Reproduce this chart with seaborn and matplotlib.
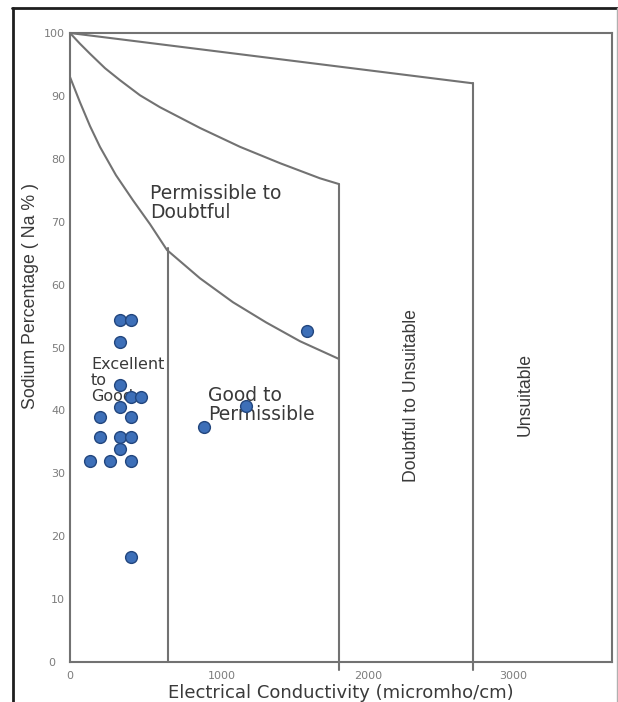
import matplotlib
matplotlib.use("Agg")
import matplotlib.pyplot as plt
import matplotlib.transforms as mtransforms
from matplotlib.lines import Line2D
import seaborn as sns
import pandas as pd

# Sample points: electrical conductivity (micromho/cm) and sodium percentage
ec_values = [372, 454, 372, 372, 454, 529, 372, 223, 454, 223, 372, 454,
             372, 149, 298, 454, 998, 1308, 1767, 454]
na_values = [54.3, 54.3, 50.8, 44.0, 42.2, 42.2, 40.6, 39.0, 39.0, 35.7, 35.7, 35.7,
             33.9, 32.0, 32.0, 32.0, 37.3, 40.7, 52.6, 16.7]

# Wilcox class boundaries
upper_ec = [0, 3000]
upper_na = [100, 92.0]
middle_ec = [0, 74, 149, 261, 372, 521, 670, 968, 1266, 1564, 1861, 2000]
middle_na = [100, 98.3, 96.7, 94.4, 92.5, 90.1, 88.2, 84.9, 81.9, 79.3, 76.9, 76.0]
lower_ec = [0, 74, 149, 223, 342, 469, 596, 722, 968, 1213, 1459, 1712, 2000]
lower_na = [93.0, 89.0, 85.2, 81.9, 77.4, 73.4, 69.6, 65.5, 61.0, 57.2, 54.0, 51.0, 48.2]
divider_ec = [730, 2000, 3000]
divider_top = [65.8, 76.0, 92.0]

y_ticks = [0, 10, 20, 30, 40, 50, 60, 70, 80, 90, 100]
x_ticks = [0, 1000, 2000, 3000]

sns.set_style("white")
plt.rcParams["font.family"] = ["DejaVu Sans"]

line_col = "#727272"
tick_col = "#7c7c7c"
text_col = "#3a3a3a"

fig = plt.figure(figsize=(6.18, 7.02), dpi=100)
ax = fig.add_axes([70 / 618, 1 - 662 / 702, (612 - 70) / 618, (662 - 33) / 702])

points = pd.DataFrame({"EC": ec_values, "Na": na_values})

for xs, ys in [(upper_ec, upper_na), (middle_ec, middle_na), (lower_ec, lower_na)]:
    sns.lineplot(x=xs, y=ys, sort=False, estimator=None, color=line_col, lw=1.5, ax=ax)
for xv, top in zip(divider_ec, divider_top):
    bottom = 0 if xv < 1000 else -1.2
    sns.lineplot(x=[xv, xv], y=[bottom, top], sort=False, estimator=None,
                 color=line_col, lw=1.5, ax=ax, clip_on=False)

sns.scatterplot(data=points, x="EC", y="Na", s=72, color="#3d6fb8",
                edgecolor="#22467e", linewidth=1.0, zorder=5, ax=ax)

ax.set_xlim(0, 4035)
ax.set_ylim(0, 100)

for sp in ax.spines.values():
    sp.set_visible(True)
    sp.set_color(line_col)
    sp.set_linewidth(1.5)

ax.set_yticks(y_ticks)
ax.set_yticklabels([str(v) for v in y_ticks])
ax.tick_params(axis="y", direction="out", length=3, width=1, color=tick_col,
               pad=0.5, labelsize=8, labelcolor=tick_col)
ax.set_xticks(x_ticks)
ax.set_xticklabels([str(v) for v in x_ticks])
ax.tick_params(axis="x", direction="inout", length=9, width=1.2, color="#555555",
               pad=2, labelsize=8, labelcolor=tick_col)
for i, lbl in enumerate(ax.get_xticklabels()):
    if i == 0:
        continue
    shift = mtransforms.ScaledTranslation((4 + 11 * (i - 1)) / 100, 0, fig.dpi_scale_trans)
    lbl.set_horizontalalignment("left")
    lbl.set_transform(lbl.get_transform() + shift)
zero_lbl = ax.get_yticklabels()[0]
zero_lbl.set_transform(zero_lbl.get_transform() +
                       mtransforms.ScaledTranslation(-10 / 100, 0, fig.dpi_scale_trans))

ax.set_xlabel("Electrical Conductivity (micromho/cm)", fontsize=13, color=text_col, labelpad=2)
ax.set_ylabel("Sodium Percentage ( Na % )", fontsize=12.8, color=text_col,
              family="Liberation Sans")
ax.yaxis.set_label_coords(-0.058, (662 - 296) / (662 - 33))

ax.text(596, 73.0, "Permissible to\nDoubtful", fontsize=13.5, color=text_col,
        ha="left", va="center", linespacing=1.0)
ax.text(156, 44.8, "Excellent\nto\nGood", fontsize=11.5, color=text_col,
        ha="left", va="center", linespacing=1.1, zorder=4)
ax.text(1028, 40.8, "Good to\nPermissible", fontsize=13.5, color=text_col,
        ha="left", va="center", linespacing=1.0, zorder=4)
ax.text(2546, 42.4, "Doubtful to Unsuitable", fontsize=12.7, color=text_col,
        rotation=90, ha="center", va="center", family="Liberation Sans")
ax.text(3387, 42.6, "Unsuitable", fontsize=12.7, color=text_col,
        rotation=90, ha="center", va="center", family="Liberation Sans")

# outer frame around the figure
fig.add_artist(Line2D([12.5 / 618, 12.5 / 618], [0, 1 - 8 / 702], transform=fig.transFigure,
                      color="#1e1e1e", lw=2))
fig.add_artist(Line2D([12 / 618, 1], [1 - 8 / 702, 1 - 8 / 702], transform=fig.transFigure,
                      color="#1e1e1e", lw=2))
fig.add_artist(Line2D([616.5 / 618, 616.5 / 618], [0, 1 - 8 / 702], transform=fig.transFigure,
                      color="#b0b0b0", lw=1))

fig.savefig("out.png", dpi=100)
